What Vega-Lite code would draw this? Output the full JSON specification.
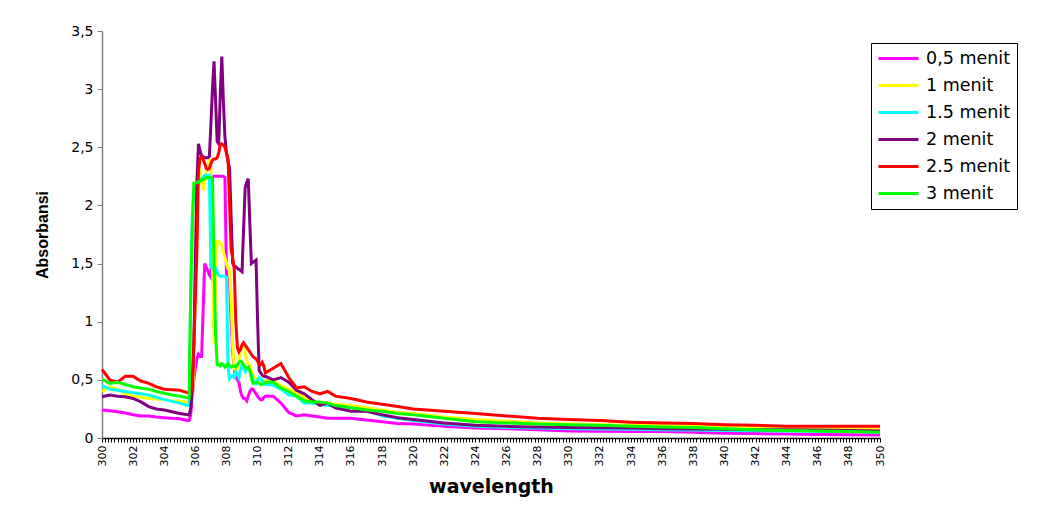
{
  "$schema": "https://vega.github.io/schema/vega-lite/v6.json",
  "autosize": {"type": "none"},
  "width": 778,
  "height": 407,
  "padding": {"left": 102, "top": 31, "right": 165, "bottom": 73},
  "background": "white",
  "config": {
    "view": {"stroke": null},
    "font": "Liberation Sans",
    "axis": {"labelFont": "Liberation Sans", "titleFont": "Liberation Sans", "labelColor": "black", "titleColor": "black", "grid": false}
  },
  "data": {"values": [
    {"wl":300,"m":0.24,"y":0.40,"c":0.45,"p":0.355,"r":0.59,"g":0.505},
    {"wl":300.5,"m":0.235,"y":0.44,"c":0.42,"p":0.37,"r":0.50,"g":0.47},
    {"wl":301,"m":0.225,"y":0.42,"c":0.41,"p":0.36,"r":0.48,"g":0.48},
    {"wl":301.5,"m":0.215,"y":0.38,"c":0.40,"p":0.355,"r":0.53,"g":0.46},
    {"wl":302,"m":0.20,"y":0.36,"c":0.39,"p":0.34,"r":0.53,"g":0.44},
    {"wl":302.5,"m":0.19,"y":0.35,"c":0.38,"p":0.31,"r":0.49,"g":0.43},
    {"wl":303,"m":0.19,"y":0.34,"c":0.37,"p":0.27,"r":0.47,"g":0.42},
    {"wl":303.5,"m":0.18,"y":0.335,"c":0.35,"p":0.25,"r":0.44,"g":0.40},
    {"wl":304,"m":0.175,"y":0.33,"c":0.33,"p":0.24,"r":0.42,"g":0.385},
    {"wl":304.5,"m":0.17,"y":0.32,"c":0.315,"p":0.225,"r":0.415,"g":0.37},
    {"wl":305,"m":0.165,"y":0.315,"c":0.30,"p":0.21,"r":0.41,"g":0.36},
    {"wl":305.5,"m":0.15,"y":0.31,"c":0.28,"p":0.20,"r":0.39,"g":0.345},
    {"wl":305.6,"m":0.15,"y":0.31,"c":0.28,"p":0.20,"r":0.385,"g":0.34},
    {"wl":305.7,"m":0.20,"y":0.31,"c":1.20,"p":0.25,"r":0.38,"g":1.27},
    {"wl":305.8,"m":0.35,"y":0.32,"c":1.90,"p":0.40,"r":0.45,"g":1.80},
    {"wl":305.9,"m":0.50,"y":0.60,"c":2.13,"p":0.80,"r":0.80,"g":2.19},
    {"wl":306.0,"m":0.60,"y":1.40,"c":2.17,"p":1.50,"r":1.20,"g":2.19},
    {"wl":306.1,"m":0.68,"y":2.20,"c":2.20,"p":2.20,"r":1.60,"g":2.20},
    {"wl":306.2,"m":0.72,"y":2.33,"c":2.20,"p":2.53,"r":2.30,"g":2.20},
    {"wl":306.3,"m":0.70,"y":2.30,"c":2.22,"p":2.47,"r":2.40,"g":2.21},
    {"wl":306.4,"m":0.70,"y":2.20,"c":2.23,"p":2.43,"r":2.42,"g":2.22},
    {"wl":306.5,"m":1.10,"y":2.13,"c":2.24,"p":2.42,"r":2.40,"g":2.22},
    {"wl":306.6,"m":1.50,"y":2.20,"c":2.26,"p":2.41,"r":2.36,"g":2.23},
    {"wl":306.7,"m":1.47,"y":2.28,"c":2.26,"p":2.41,"r":2.32,"g":2.24},
    {"wl":306.8,"m":1.44,"y":2.35,"c":2.26,"p":2.41,"r":2.31,"g":2.24},
    {"wl":306.9,"m":1.40,"y":2.39,"c":2.26,"p":2.42,"r":2.32,"g":2.24},
    {"wl":307.0,"m":1.38,"y":2.33,"c":1.47,"p":2.70,"r":2.36,"g":2.24},
    {"wl":307.1,"m":2.25,"y":1.50,"c":1.46,"p":3.00,"r":2.39,"g":2.23},
    {"wl":307.2,"m":2.25,"y":0.81,"c":1.45,"p":3.24,"r":2.40,"g":1.50},
    {"wl":307.3,"m":2.25,"y":1.30,"c":1.46,"p":2.90,"r":2.40,"g":0.90},
    {"wl":307.4,"m":2.25,"y":1.69,"c":1.43,"p":2.55,"r":2.41,"g":0.63},
    {"wl":307.5,"m":2.25,"y":1.69,"c":1.40,"p":2.53,"r":2.45,"g":0.63},
    {"wl":307.6,"m":2.25,"y":1.68,"c":1.39,"p":2.95,"r":2.52,"g":0.62},
    {"wl":307.7,"m":2.25,"y":1.66,"c":1.39,"p":3.28,"r":2.53,"g":0.64},
    {"wl":307.8,"m":2.25,"y":1.60,"c":1.39,"p":2.90,"r":2.52,"g":0.63},
    {"wl":307.9,"m":2.24,"y":1.55,"c":1.39,"p":2.59,"r":2.50,"g":0.61},
    {"wl":308.0,"m":1.40,"y":1.50,"c":1.38,"p":2.45,"r":2.45,"g":0.62},
    {"wl":308.1,"m":1.38,"y":1.46,"c":0.61,"p":2.38,"r":2.40,"g":0.64},
    {"wl":308.2,"m":1.35,"y":1.44,"c":0.51,"p":2.32,"r":2.00,"g":0.62},
    {"wl":308.3,"m":1.00,"y":1.20,"c":0.53,"p":1.90,"r":1.62,"g":0.61},
    {"wl":308.4,"m":0.75,"y":0.80,"c":0.53,"p":1.50,"r":1.55,"g":0.62},
    {"wl":308.5,"m":0.60,"y":0.60,"c":0.52,"p":1.48,"r":1.45,"g":0.62},
    {"wl":308.6,"m":0.52,"y":0.58,"c":0.57,"p":1.47,"r":1.00,"g":0.61},
    {"wl":308.7,"m":0.50,"y":0.60,"c":0.55,"p":1.46,"r":0.78,"g":0.63},
    {"wl":308.8,"m":0.48,"y":0.68,"c":0.52,"p":1.45,"r":0.74,"g":0.65},
    {"wl":308.9,"m":0.40,"y":0.75,"c":0.585,"p":1.44,"r":0.76,"g":0.66},
    {"wl":309.0,"m":0.36,"y":0.80,"c":0.63,"p":1.43,"r":0.80,"g":0.65},
    {"wl":309.1,"m":0.34,"y":0.81,"c":0.60,"p":1.80,"r":0.82,"g":0.63},
    {"wl":309.2,"m":0.34,"y":0.74,"c":0.57,"p":2.15,"r":0.80,"g":0.61},
    {"wl":309.3,"m":0.32,"y":0.66,"c":0.59,"p":2.20,"r":0.78,"g":0.60},
    {"wl":309.4,"m":0.36,"y":0.64,"c":0.60,"p":2.23,"r":0.76,"g":0.61},
    {"wl":309.5,"m":0.40,"y":0.62,"c":0.58,"p":1.85,"r":0.74,"g":0.58},
    {"wl":309.6,"m":0.42,"y":0.58,"c":0.54,"p":1.50,"r":0.72,"g":0.52},
    {"wl":309.7,"m":0.42,"y":0.54,"c":0.50,"p":1.51,"r":0.70,"g":0.47},
    {"wl":309.8,"m":0.40,"y":0.52,"c":0.48,"p":1.52,"r":0.69,"g":0.47},
    {"wl":309.9,"m":0.38,"y":0.51,"c":0.47,"p":1.53,"r":0.68,"g":0.48},
    {"wl":310.0,"m":0.36,"y":0.50,"c":0.50,"p":1.00,"r":0.66,"g":0.48},
    {"wl":310.1,"m":0.34,"y":0.50,"c":0.52,"p":0.58,"r":0.63,"g":0.47},
    {"wl":310.2,"m":0.33,"y":0.50,"c":0.51,"p":0.56,"r":0.63,"g":0.46},
    {"wl":310.3,"m":0.33,"y":0.49,"c":0.49,"p":0.54,"r":0.65,"g":0.46},
    {"wl":310.4,"m":0.35,"y":0.49,"c":0.47,"p":0.53,"r":0.62,"g":0.47},
    {"wl":310.5,"m":0.36,"y":0.49,"c":0.46,"p":0.53,"r":0.56,"g":0.48},
    {"wl":311,"m":0.36,"y":0.49,"c":0.455,"p":0.50,"r":0.60,"g":0.48},
    {"wl":311.5,"m":0.30,"y":0.45,"c":0.42,"p":0.52,"r":0.64,"g":0.43},
    {"wl":312,"m":0.22,"y":0.42,"c":0.37,"p":0.48,"r":0.52,"g":0.40},
    {"wl":312.5,"m":0.19,"y":0.39,"c":0.36,"p":0.41,"r":0.43,"g":0.36},
    {"wl":313,"m":0.20,"y":0.35,"c":0.30,"p":0.38,"r":0.44,"g":0.32},
    {"wl":313.5,"m":0.19,"y":0.31,"c":0.30,"p":0.33,"r":0.40,"g":0.31},
    {"wl":314,"m":0.18,"y":0.28,"c":0.29,"p":0.28,"r":0.38,"g":0.31},
    {"wl":314.5,"m":0.17,"y":0.30,"c":0.28,"p":0.30,"r":0.40,"g":0.30},
    {"wl":315,"m":0.17,"y":0.29,"c":0.275,"p":0.26,"r":0.36,"g":0.28},
    {"wl":316,"m":0.17,"y":0.28,"c":0.26,"p":0.23,"r":0.34,"g":0.26},
    {"wl":317,"m":0.155,"y":0.26,"c":0.24,"p":0.23,"r":0.31,"g":0.24},
    {"wl":318,"m":0.14,"y":0.24,"c":0.19,"p":0.20,"r":0.29,"g":0.23},
    {"wl":319,"m":0.125,"y":0.22,"c":0.17,"p":0.175,"r":0.27,"g":0.21},
    {"wl":320,"m":0.12,"y":0.21,"c":0.15,"p":0.16,"r":0.25,"g":0.20},
    {"wl":322,"m":0.10,"y":0.18,"c":0.12,"p":0.13,"r":0.23,"g":0.17},
    {"wl":324,"m":0.085,"y":0.16,"c":0.10,"p":0.11,"r":0.21,"g":0.14},
    {"wl":326,"m":0.08,"y":0.145,"c":0.09,"p":0.10,"r":0.19,"g":0.13},
    {"wl":328,"m":0.07,"y":0.13,"c":0.085,"p":0.095,"r":0.17,"g":0.12},
    {"wl":330,"m":0.06,"y":0.12,"c":0.08,"p":0.09,"r":0.16,"g":0.115},
    {"wl":332,"m":0.058,"y":0.115,"c":0.078,"p":0.088,"r":0.15,"g":0.11},
    {"wl":334,"m":0.055,"y":0.11,"c":0.075,"p":0.085,"r":0.135,"g":0.10},
    {"wl":336,"m":0.055,"y":0.105,"c":0.07,"p":0.08,"r":0.13,"g":0.095},
    {"wl":338,"m":0.05,"y":0.10,"c":0.068,"p":0.078,"r":0.125,"g":0.09},
    {"wl":340,"m":0.04,"y":0.10,"c":0.065,"p":0.075,"r":0.115,"g":0.08},
    {"wl":342,"m":0.038,"y":0.095,"c":0.062,"p":0.072,"r":0.11,"g":0.07},
    {"wl":344,"m":0.035,"y":0.09,"c":0.06,"p":0.07,"r":0.10,"g":0.065},
    {"wl":346,"m":0.03,"y":0.085,"c":0.058,"p":0.068,"r":0.10,"g":0.06},
    {"wl":348,"m":0.028,"y":0.08,"c":0.055,"p":0.065,"r":0.10,"g":0.055},
    {"wl":350,"m":0.025,"y":0.078,"c":0.052,"p":0.06,"r":0.10,"g":0.05}
  ]},
  "transform": [{"fold": ["m", "y", "c", "p", "r", "g"], "as": ["s", "A"]}],
  "mark": {"type": "line", "strokeWidth": 3, "interpolate": "linear"},
  "encoding": {
    "x": {
      "field": "wl", "type": "quantitative",
      "scale": {"domain": [300, 350], "nice": false, "zero": false},
      "axis": {
        "title": "wavelength", "titleFont": "DejaVu Sans", "titleFontSize": 19, "titleFontWeight": "bold", "titlePadding": 12,
        "tickCount": 250, "tickSize": 4, "tickColor": "black", "tickWidth": 1,
        "domainColor": "black", "domainWidth": 1.5,
        "labelAngle": -90, "labelFont": "DejaVu Sans", "labelFontSize": 11, "labelPadding": 3, "labelOverlap": false, "labelFlush": false, "labelBound": false,
        "labelExpr": "datum.value % 2 === 0 ? format(datum.value, 'd') : ''"
      }
    },
    "y": {
      "field": "A", "type": "quantitative",
      "scale": {"domain": [0, 3.5], "nice": false},
      "axis": {
        "title": "Absorbansi", "titleFontSize": 16, "titleFontWeight": "bold", "titlePadding": 20,
        "values": [0, 0.5, 1, 1.5, 2, 2.5, 3, 3.5],
        "labelExpr": "replace(toString(datum.value), '.', ',')",
        "labelFont": "DejaVu Sans", "labelFontSize": 14, "labelPadding": 4, "tickSize": 5, "tickColor": "#808080", "domainColor": "#808080", "domainWidth": 1.5
      }
    },
    "color": {
      "field": "s", "type": "nominal",
      "scale": {"domain": ["m", "y", "c", "p", "r", "g"], "range": ["#FF00FF", "#FFFF00", "#00FFFF", "#800080", "#FF0000", "#00FF00"]},
      "legend": {
        "title": null, "orient": "none", "legendX": 769, "legendY": 12,
        "labelExpr": "{'m': '0,5 menit', 'y': '1 menit', 'c': '1.5 menit', 'p': '2 menit', 'r': '2.5 menit', 'g': '3 menit'}[datum.value]",
        "symbolType": "stroke", "symbolSize": 1600, "symbolStrokeWidth": 3,
        "labelFontSize": 17.5, "labelFont": "DejaVu Sans", "labelColor": "black", "labelOffset": 6,
        "clipHeight": 19, "rowPadding": 8, "padding": 6,
        "strokeColor": "black", "fillColor": "white"
      }
    }
  }
}
